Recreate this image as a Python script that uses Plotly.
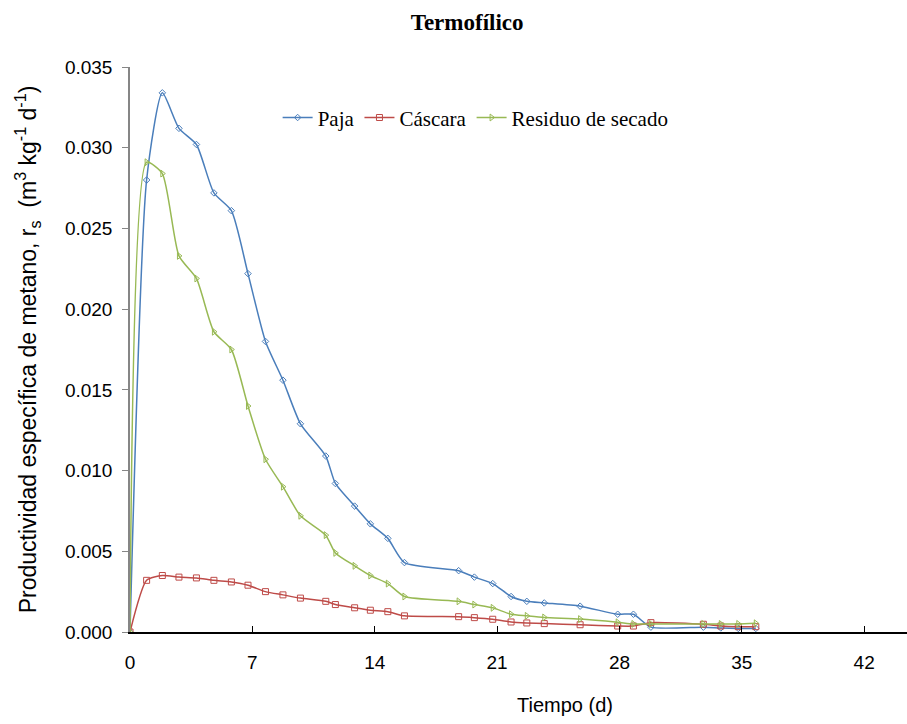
import plotly.graph_objects as go

dias = [0, 0.95, 1.85, 2.8, 3.8, 4.8, 5.8, 6.75, 7.75, 8.75, 9.75, 11.2, 11.75, 12.85,
        13.75, 14.75, 15.7, 18.8, 19.7, 20.75, 21.8, 22.7, 23.7, 25.75, 27.9, 28.8,
        29.8, 32.8, 33.8, 34.8, 35.8]

paja = [0, 0.0280, 0.0334, 0.0312, 0.0302, 0.0272, 0.0261, 0.0222, 0.0180, 0.0156,
        0.0129, 0.0109, 0.0092, 0.0078, 0.0067, 0.0058, 0.0043, 0.0038, 0.0034, 0.0030,
        0.0022, 0.0019, 0.0018, 0.0016, 0.0011, 0.0011, 0.0003, 0.0003, 0.00025,
        0.00022, 0.00022]

cascara = [0, 0.0032, 0.0035, 0.0034, 0.00335, 0.0032, 0.0031, 0.0029, 0.0025, 0.0023,
           0.0021, 0.0019, 0.0017, 0.0015, 0.00135, 0.00126, 0.0010, 0.00095, 0.00089,
           0.00079, 0.00062, 0.00056, 0.00052, 0.00045, 0.00037, 0.00037, 0.00058,
           0.00048, 0.00037, 0.00033, 0.00033]

residuo = [0, 0.0291, 0.0284, 0.0233, 0.0219, 0.0186, 0.0175, 0.0140, 0.0107, 0.0090,
           0.0072, 0.0060, 0.0049, 0.0041, 0.0035, 0.0030, 0.0022, 0.0019, 0.0017,
           0.0015, 0.0011, 0.0010, 0.0009, 0.0008, 0.0006, 0.0005, 0.0005, 0.0005,
           0.0005, 0.0005, 0.00054]

x_ticks = [0, 7, 14, 21, 28, 35, 42]
y_ticks = [0, 0.005, 0.010, 0.015, 0.020, 0.025, 0.030, 0.035]

fig = go.Figure()
series = [
    ("Paja", paja, "#4a7ebb", "diamond-open", 5),
    ("Cáscara", cascara, "#be4b48", "square-open", 6),
    ("Residuo de secado", residuo, "#98b954", "triangle-right-open", 6),
]
for name, vals, col, sym, sz in series:
    fig.add_trace(go.Scatter(
        x=dias, y=vals, name=name, mode="lines+markers",
        line=dict(color=col, width=1.5, shape="spline", smoothing=0.6),
        marker=dict(symbol=sym, size=sz, color=col, line=dict(color=col, width=1)),
    ))

fig.update_layout(
    width=907, height=724,
    paper_bgcolor="white", plot_bgcolor="white",
    margin=dict(l=130, r=0, t=67, b=92),
    title=dict(text="<b>Termofílico</b>", x=0.515, xanchor="center", y=0.97, yanchor="middle",
               font=dict(family="Liberation Serif", size=23, color="black")),
    legend=dict(orientation="h", x=0.19, y=0.91, xanchor="left", yanchor="middle",
                font=dict(family="Liberation Serif", size=21, color="black"),
                bgcolor="rgba(0,0,0,0)", itemwidth=30, tracegroupgap=0),
    showlegend=True,
    annotations=[dict(text="Tiempo (d)", xref="paper", yref="paper", x=0.56, y=-0.129,
                      xanchor="center", yanchor="middle", showarrow=False,
                      font=dict(family="Liberation Sans", size=20, color="black"))],
)

fig.update_xaxes(
    range=[0, 44.45], tickvals=x_ticks, ticktext=[str(v) for v in x_ticks],
    showgrid=False, zeroline=False, showline=True, linecolor="black", linewidth=1.5,
    ticks="inside", ticklen=6, tickcolor="black", tickwidth=1,
    tickfont=dict(family="Liberation Sans", size=19, color="black"),
    ticklabelstandoff=12,
)
fig.update_yaxes(
    range=[0, 0.035], tickvals=y_ticks, ticktext=[f"{v:.3f}" for v in y_ticks],
    showgrid=False, zeroline=False, showline=True, linecolor="#868686", linewidth=1.5,
    ticks="outside", ticklen=6, tickcolor="#868686", tickwidth=1,
    tickfont=dict(family="Liberation Sans", size=19, color="black"),
    ticklabelstandoff=6,
    title=dict(text="Productividad específica de metano, r<sub>s</sub>  (m<sup>3</sup> kg<sup>-1</sup> d<sup>-1</sup>)",
               font=dict(family="Liberation Sans", size=23, color="black"), standoff=22),
)

fig.write_html("out.html")
